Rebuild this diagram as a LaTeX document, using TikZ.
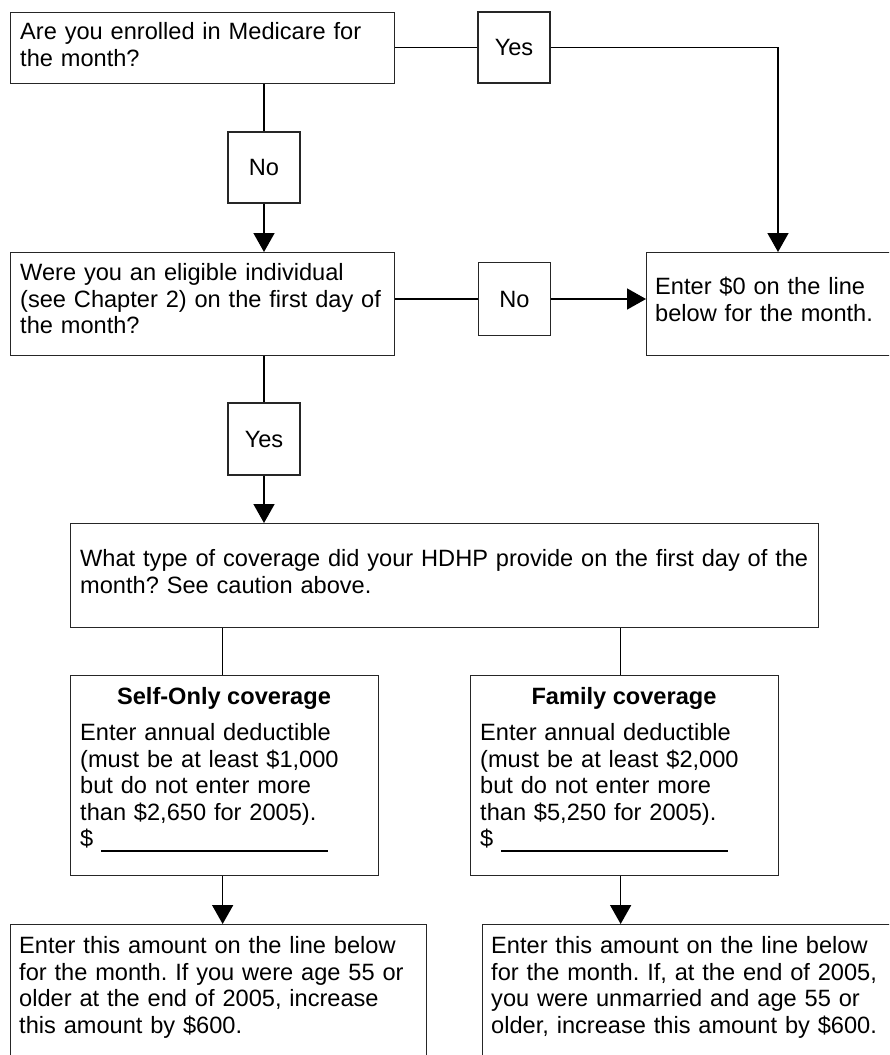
\documentclass[tikz,border=0pt]{standalone}
\usepackage{fontspec}
\setmainfont{Liberation Sans}
\usetikzlibrary{arrows.meta}
\frenchspacing
\begin{document}
\begin{tikzpicture}[x=1pt,y=-1pt,
  every node/.style={font=\fontsize{23.6}{26.5}\selectfont},
  box/.style={draw=black!85, line width=1.3pt, anchor=north west, inner sep=0pt},
  lbl/.style={draw=black!85, line width=1.3pt, inner sep=0pt, minimum width=72pt, minimum height=72pt},
  txt/.style={anchor=base west, align=left, inner sep=0pt, text width=#1},
  txt/.default=400pt,
  head/.style={anchor=base, inner sep=0pt, font=\fontsize{23.6}{26.5}\selectfont\bfseries},
  conn/.style={line width=1.6pt},
  arr/.style={line width=1.6pt, -{Triangle[length=19pt,width=21pt]}},
]
\useasboundingbox (0,0) rectangle (889,1055);
\clip (0,0) rectangle (889,1055);
\fill[white] (0,0) rectangle (889,1055);

% boxes
\node[box, minimum width=384pt, minimum height=71pt] (q1) at (10,12) {};
\node[box, minimum width=384pt, minimum height=103pt] (q2) at (10,252) {};
\node[box, minimum width=320pt, minimum height=103pt] (a0) at (646,252) {};
\node[box, minimum width=748pt, minimum height=104pt] (q3) at (70,523) {};
\node[box, minimum width=308pt, minimum height=200pt] (s1) at (70,675) {};
\node[box, minimum width=308pt, minimum height=200pt] (f1) at (470,675) {};
\node[box, minimum width=416pt, minimum height=200pt] (r1) at (10,924) {};
\node[box, minimum width=480pt, minimum height=200pt] (r2) at (482,924) {};

% answer labels
\node[lbl, minimum height=71pt] (yes1) at (514,47.5) {Yes};
\node[lbl, minimum height=71pt] (no1) at (264,167.5) {No};
\node[lbl, minimum height=73pt] (no2) at (514.5,299) {No};
\node[lbl] (yes2) at (264,439) {Yes};

% texts
\node[txt=370pt] (q1t) at (20,39.5) {Are you enrolled in Medicare for\\the month?};
\node[txt=370pt] (q2t) at (20,280.5) {Were you an eligible individual\\(see Chapter 2) on the first day of\\the month?};
\node[txt=230pt] (a0t) at (655,294.5) {Enter \$0 on the line\\below for the month.};
\node[txt=735pt] (q3t) at (80,566.5) {What type of coverage did your HDHP provide on the first day of the\\month? See caution above.};
\node[head] (s1h) at (224,704.5) {Self-Only coverage};
\node[txt=295pt] (s1t) at (80,740.5) {Enter annual deductible\\(must be at least \$1,000\\but do not enter more\\than \$2,650 for 2005).\\\$ \rule[-5pt]{227pt}{1.5pt}};
\node[head] (f1h) at (624,704.5) {Family coverage};
\node[txt=295pt] (f1t) at (480,740.5) {Enter annual deductible\\(must be at least \$2,000\\but do not enter more\\than \$5,250 for 2005).\\\$ \rule[-5pt]{227pt}{1.5pt}};
\node[txt=405pt] (r1t) at (19,953.5) {Enter this amount on the line below\\for the month. If you were age 55 or\\older at the end of 2005, increase\\this amount by \$600.};
\node[txt=395pt] (r2t) at (491,953.5) {Enter this amount on the line below\\for the month. If, at the end of 2005,\\you were unmarried and age 55 or\\older, increase this amount by \$600.};

% connectors
\draw[conn] (q1.east |- yes1.west) -- (yes1.west);
\draw[arr] (yes1.east) -| ([xshift=132pt]a0.north west);
\draw[conn] (no1.north |- q1.south) -- (no1.north);
\draw[arr] (no1.south) -- (no1.south |- q2.north);
\draw[conn] (q2.east |- no2.west) -- (no2.west);
\draw[arr] (no2.east) -- (no2.east -| a0.west);
\draw[conn] (yes2.north |- q2.south) -- (yes2.north);
\draw[arr] (yes2.south) -- (yes2.south |- q3.north);
\draw[conn] ([xshift=-2pt]s1.north |- q3.south) -- ([xshift=-2pt]s1.north);
\draw[conn] ([xshift=-4pt]f1.north |- q3.south) -- ([xshift=-4pt]f1.north);
\draw[arr] ([xshift=-2pt]s1.south) -- ([xshift=-2pt]s1.south |- r1.north);
\draw[arr] ([xshift=-4pt]f1.south) -- ([xshift=-4pt]f1.south |- r2.north);
\end{tikzpicture}
\end{document}
